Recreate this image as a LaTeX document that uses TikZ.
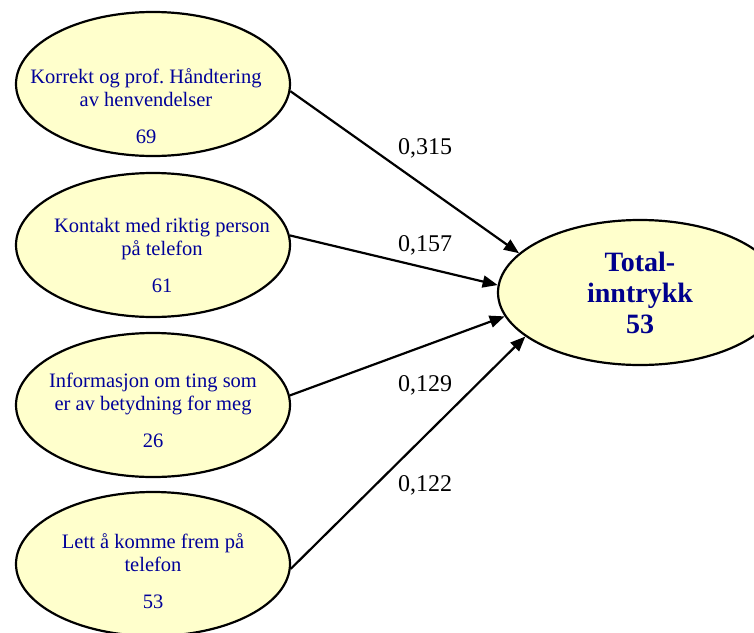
\documentclass[tikz,border=0pt]{standalone}
\usepackage{fontspec}
\setmainfont{Liberation Serif}
\usepackage{xcolor}
\usepackage{tikz}
\usetikzlibrary{
	positioning,    % posizionamento relativo
	arrows.meta,    % punte di freccia (Triangle)
	shapes.geometric % per le ellissi
}
\definecolor{giallino}{RGB}{255,255,204}
\definecolor{blutesto}{RGB}{0,0,153}
\definecolor{blunotte}{RGB}{0,0,140}
\tikzset{
	ovale/.style={ellipse, draw, line width=2.2pt, fill=giallino,
		minimum width=274pt, minimum height=144pt, inner sep=0pt},
	testo/.style={align=center, text=blutesto, inner sep=0pt,
		font=\fontsize{20.5}{23}\selectfont},
	totale/.style={align=center, text=blunotte,
		font=\fontsize{28}{31}\selectfont\bfseries},
	peso/.style={inner sep=0pt, font=\fontsize{24}{28}\selectfont},
	freccia/.style={-{Triangle[length=15pt,width=12pt]}, line width=2.2pt}
}

\begin{document}
\begin{tikzpicture}[x=1pt, y=-1pt]
	% --- Riquadro ---
	\useasboundingbox (0,0) rectangle (754,632);
	
	% --- Ellissi ---
	\node[ovale] (k1) at (153,84) {};
	\node[ovale] (k2) at (153,245) {};
	\node[ovale] (k3) at (153,405) {};
	\node[ovale] (k4) at (153,564) {};
	\node[ovale, minimum width=284pt, minimum height=145pt, totale] (tot) at (640,292.5) {Total-\\inntrykk\\53};
	
	% --- Testi nelle ellissi ---
	\node[testo] (t1) at ([xshift=-7pt, yshift=-22pt]k1.center) {Korrekt og prof.\ Håndtering\\av henvendelser\\[14pt]69};
	\node[testo] (t2) at ([xshift=9pt, yshift=-10pt]k2.center) {Kontakt med riktig person\\på telefon\\[14pt]61};
	\node[testo] (t3) at ([yshift=-5pt]k3.center) {Informasjon om ting som\\er av betydning for meg\\[14pt]26};
	\node[testo] (t4) at ([yshift=-7pt]k4.center) {Lett å komme frem på\\telefon\\[14pt]53};
	
	% --- Frecce ---
	\draw[freccia] (k1.-3) -- (tot.162);
	\draw[freccia] (k2.4) -- (tot.177);
	\draw[freccia] (k3.4) -- (tot.190);
	\draw[freccia] (k4.-2) -- (tot.201);
	
	% --- Pesi ---
	\node[peso] (w1) at (425,148) {0,315};
	\node[peso] (w2) at (425,245) {0,157};
	\node[peso] (w3) at (425,385) {0,129};
	\node[peso] (w4) at (425,485) {0,122};
\end{tikzpicture}
\end{document}
